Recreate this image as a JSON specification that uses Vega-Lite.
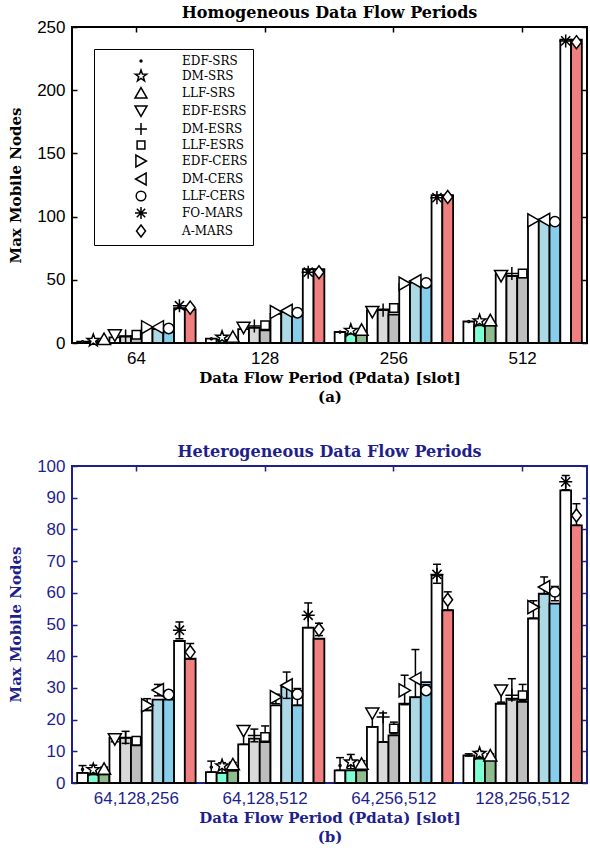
{
  "$schema": "https://vega.github.io/schema/vega-lite/v6.json",
  "padding": {"left": 7, "top": 4, "right": 0, "bottom": 0},
  "background": "white",
  "spacing": 38,
  "config": {
    "font": "DejaVu Serif",
    "view": {"stroke": "black", "strokeWidth": 2},
    "axis": {
      "labelFont": "Liberation Sans", "labelFontSize": 17, "labelColor": "black",
      "titleFont": "DejaVu Serif", "titleFontSize": 15, "titleFontWeight": "bold", "titleColor": "black",
      "domain": false, "grid": false, "tickSize": -5, "tickWidth": 1.5, "tickColor": "black", "minExtent": 0
    },
    "title": {"font": "DejaVu Serif", "fontSize": 16, "fontWeight": "bold", "anchor": "middle", "offset": -3}
  },
  "resolve": {"scale": {"x": "independent", "y": "independent", "shape": "independent", "fill": "independent", "xOffset": "independent"}, "legend": {"shape": "independent", "fill": "independent"}},
  "datasets": {
    "homo": [
      {"g": "64", "s": "EDF-SRS", "v": 1, "m": 1},
      {"g": "64", "s": "DM-SRS", "v": 1, "m": 2},
      {"g": "64", "s": "LLF-SRS", "v": 1.5, "m": 3.2},
      {"g": "64", "s": "EDF-ESRS", "v": 4.5, "m": 6},
      {"g": "64", "s": "DM-ESRS", "v": 5, "m": 5.5},
      {"g": "64", "s": "LLF-ESRS", "v": 5.5, "m": 6.5},
      {"g": "64", "s": "EDF-CERS", "v": 12, "m": 12.5},
      {"g": "64", "s": "DM-CERS", "v": 11, "m": 12.5},
      {"g": "64", "s": "LLF-CERS", "v": 9.5, "m": 11.5},
      {"g": "64", "s": "FO-MARS", "v": 27.5, "m": 29.5},
      {"g": "64", "s": "A-MARS", "v": 26.5, "m": 28},
      {"g": "128", "s": "EDF-SRS", "v": 3.4, "m": 3.4},
      {"g": "128", "s": "DM-SRS", "v": 2.5, "m": 4.5},
      {"g": "128", "s": "LLF-SRS", "v": 2.5, "m": 5},
      {"g": "128", "s": "EDF-ESRS", "v": 11, "m": 12},
      {"g": "128", "s": "DM-ESRS", "v": 12, "m": 13.5},
      {"g": "128", "s": "LLF-ESRS", "v": 10, "m": 14},
      {"g": "128", "s": "EDF-CERS", "v": 23, "m": 24.5},
      {"g": "128", "s": "DM-CERS", "v": 24.5, "m": 25.5},
      {"g": "128", "s": "LLF-CERS", "v": 22, "m": 24},
      {"g": "128", "s": "FO-MARS", "v": 58.4, "m": 56},
      {"g": "128", "s": "A-MARS", "v": 58.4, "m": 56},
      {"g": "256", "s": "EDF-SRS", "v": 8.7, "m": 8.7},
      {"g": "256", "s": "DM-SRS", "v": 7.2, "m": 10},
      {"g": "256", "s": "LLF-SRS", "v": 7.4, "m": 10.5},
      {"g": "256", "s": "EDF-ESRS", "v": 26, "m": 24.5},
      {"g": "256", "s": "DM-ESRS", "v": 26.5, "m": 26},
      {"g": "256", "s": "LLF-ESRS", "v": 22.5, "m": 27.7},
      {"g": "256", "s": "EDF-CERS", "v": 46.7, "m": 47},
      {"g": "256", "s": "DM-CERS", "v": 48.5, "m": 49},
      {"g": "256", "s": "LLF-CERS", "v": 45.5, "m": 47.5},
      {"g": "256", "s": "FO-MARS", "v": 117, "m": 115},
      {"g": "256", "s": "A-MARS", "v": 117, "m": 115.5},
      {"g": "512", "s": "EDF-SRS", "v": 17, "m": 17},
      {"g": "512", "s": "DM-SRS", "v": 14, "m": 17.5},
      {"g": "512", "s": "LLF-SRS", "v": 14, "m": 18},
      {"g": "512", "s": "EDF-ESRS", "v": 54.5, "m": 53},
      {"g": "512", "s": "DM-ESRS", "v": 53, "m": 55},
      {"g": "512", "s": "LLF-ESRS", "v": 52, "m": 55},
      {"g": "512", "s": "EDF-CERS", "v": 97.5, "m": 97},
      {"g": "512", "s": "DM-CERS", "v": 97.5, "m": 97.5},
      {"g": "512", "s": "LLF-CERS", "v": 95, "m": 96},
      {"g": "512", "s": "FO-MARS", "v": 240, "m": 239},
      {"g": "512", "s": "A-MARS", "v": 240, "m": 238}
    ],
    "hetero": [
      {"g": "64,128,256", "s": "EDF-SRS", "v": 3.2, "m": 4.3, "lo": 3.2, "hi": 5.5},
      {"g": "64,128,256", "s": "DM-SRS", "v": 2.7, "m": 4.2, "lo": 2.7, "hi": 5.6},
      {"g": "64,128,256", "s": "LLF-SRS", "v": 2.7, "m": 4.5, "lo": 2.7, "hi": 5.0},
      {"g": "64,128,256", "s": "EDF-ESRS", "v": 14.3, "m": 13.8, "lo": 13, "hi": 14.6},
      {"g": "64,128,256", "s": "DM-ESRS", "v": 14.3, "m": 14.2, "lo": 12.5, "hi": 16.3},
      {"g": "64,128,256", "s": "LLF-ESRS", "v": 11.9, "m": 13.3, "lo": 11.9, "hi": 14.6},
      {"g": "64,128,256", "s": "EDF-CERS", "v": 22.9, "m": 24.5, "lo": 22.9, "hi": 26.6},
      {"g": "64,128,256", "s": "DM-CERS", "v": 26.3, "m": 29.3, "lo": 27.5, "hi": 31.1},
      {"g": "64,128,256", "s": "LLF-CERS", "v": 26.3, "m": 27.9, "lo": 26.5, "hi": 29},
      {"g": "64,128,256", "s": "FO-MARS", "v": 44.8, "m": 48.2, "lo": 45.5, "hi": 50.8},
      {"g": "64,128,256", "s": "A-MARS", "v": 39.2, "m": 41.3, "lo": 39.2, "hi": 44},
      {"g": "64,128,512", "s": "EDF-SRS", "v": 3.4, "m": 5, "lo": 3.4, "hi": 6.9},
      {"g": "64,128,512", "s": "DM-SRS", "v": 3.2, "m": 5.4, "lo": 3.2, "hi": 6.4},
      {"g": "64,128,512", "s": "LLF-SRS", "v": 3.9, "m": 5.9, "lo": 3.9, "hi": 6.5},
      {"g": "64,128,512", "s": "EDF-ESRS", "v": 12.2, "m": 16.4, "lo": 12.2, "hi": 17.9},
      {"g": "64,128,512", "s": "DM-ESRS", "v": 14, "m": 15, "lo": 13, "hi": 17},
      {"g": "64,128,512", "s": "LLF-ESRS", "v": 12.9, "m": 14.5, "lo": 12.9, "hi": 18},
      {"g": "64,128,512", "s": "EDF-CERS", "v": 24.5, "m": 27.1, "lo": 25, "hi": 28},
      {"g": "64,128,512", "s": "DM-CERS", "v": 30.3, "m": 30.8, "lo": 26.7, "hi": 35},
      {"g": "64,128,512", "s": "LLF-CERS", "v": 24.5, "m": 28, "lo": 24.5, "hi": 29.8},
      {"g": "64,128,512", "s": "FO-MARS", "v": 49, "m": 52.9, "lo": 49, "hi": 56.8},
      {"g": "64,128,512", "s": "A-MARS", "v": 45.5, "m": 48.4, "lo": 46.5, "hi": 50.4},
      {"g": "64,256,512", "s": "EDF-SRS", "v": 4, "m": 5.5, "lo": 4, "hi": 8},
      {"g": "64,256,512", "s": "DM-SRS", "v": 4, "m": 6.6, "lo": 4.5, "hi": 9},
      {"g": "64,256,512", "s": "LLF-SRS", "v": 4, "m": 6.1, "lo": 4, "hi": 7},
      {"g": "64,256,512", "s": "EDF-ESRS", "v": 17.7, "m": 21.9, "lo": 17.7, "hi": 22.5},
      {"g": "64,256,512", "s": "DM-ESRS", "v": 12.9, "m": 20.8, "lo": 13, "hi": 22.1},
      {"g": "64,256,512", "s": "LLF-ESRS", "v": 15, "m": 17.2, "lo": 15.5, "hi": 19.2},
      {"g": "64,256,512", "s": "EDF-CERS", "v": 25, "m": 29.2, "lo": 24.7, "hi": 34},
      {"g": "64,256,512", "s": "DM-CERS", "v": 27.1, "m": 32.9, "lo": 27, "hi": 42.1},
      {"g": "64,256,512", "s": "LLF-CERS", "v": 31.8, "m": 29.2, "lo": 28, "hi": 31},
      {"g": "64,256,512", "s": "FO-MARS", "v": 65.5, "m": 65.8, "lo": 63, "hi": 69},
      {"g": "64,256,512", "s": "A-MARS", "v": 54.5, "m": 57.8, "lo": 54.5, "hi": 60.3},
      {"g": "128,256,512", "s": "EDF-SRS", "v": 8.7, "m": 8.8, "lo": 8.5, "hi": 9.2},
      {"g": "128,256,512", "s": "DM-SRS", "v": 7.7, "m": 9.3, "lo": 8.5, "hi": 10},
      {"g": "128,256,512", "s": "LLF-SRS", "v": 7.2, "m": 8.7, "lo": 8.2, "hi": 9.2},
      {"g": "128,256,512", "s": "EDF-ESRS", "v": 25, "m": 29.2, "lo": 25.5, "hi": 30.3},
      {"g": "128,256,512", "s": "DM-ESRS", "v": 26.6, "m": 27.7, "lo": 26.2, "hi": 32.9},
      {"g": "128,256,512", "s": "LLF-ESRS", "v": 25.6, "m": 27.7, "lo": 26, "hi": 31.1},
      {"g": "128,256,512", "s": "EDF-CERS", "v": 51.9, "m": 55.5, "lo": 52, "hi": 57.5},
      {"g": "128,256,512", "s": "DM-CERS", "v": 59.7, "m": 61.8, "lo": 59.7, "hi": 65},
      {"g": "128,256,512", "s": "LLF-CERS", "v": 56.6, "m": 60.3, "lo": 57.5, "hi": 62},
      {"g": "128,256,512", "s": "FO-MARS", "v": 92.3, "m": 95, "lo": 92.5, "hi": 97},
      {"g": "128,256,512", "s": "A-MARS", "v": 81.3, "m": 84.4, "lo": 81.3, "hi": 88.1}
    ]
  },
  "vconcat": [
    {
      "width": 515,
      "height": 316,
      "title": {"text": "Homogeneous Data Flow Periods", "color": "black"},
      "data": {"name": "homo"},
      "resolve": {"axis": {"x": "independent", "y": "independent"}, "legend": {"shape": "independent", "fill": "independent"}},
      "layer": [
        {
          "mark": {"type": "bar", "stroke": "black", "strokeWidth": 1.8},
          "encoding": {
            "x": {"field": "g", "type": "nominal", "sort": ["64", "128", "256", "512"],
              "scale": {"paddingInner": 0.08, "paddingOuter": 0.04},
              "axis": {"orient": "bottom", "labelAngle": 0, "labelPadding": 12,
                "title": ["Data Flow Period (Pdata) [slot]", "(a)"], "titleY": 39, "titleBaseline": "alphabetic", "titleLineHeight": 19}},
            "xOffset": {"field": "s", "type": "nominal",
              "scale": {"domain": ["EDF-SRS", "DM-SRS", "LLF-SRS", "EDF-ESRS", "DM-ESRS", "LLF-ESRS", "EDF-CERS", "DM-CERS", "LLF-CERS", "FO-MARS", "A-MARS"], "paddingInner": 0, "paddingOuter": 0}},
            "y": {"field": "v", "type": "quantitative", "scale": {"domain": [0, 250], "nice": false},
              "axis": {"orient": "left", "values": [0, 50, 100, 150, 200, 250], "labelPadding": 12,
                "title": "Max Mobile Nodes", "titleX": -57, "titleY": 158, "titleAngle": -90, "titleAlign": "center", "titleBaseline": "middle"}},
            "fill": {"field": "s", "type": "nominal", "legend": null,
              "scale": {"domain": ["EDF-SRS", "DM-SRS", "LLF-SRS", "EDF-ESRS", "DM-ESRS", "LLF-ESRS", "EDF-CERS", "DM-CERS", "LLF-CERS", "FO-MARS", "A-MARS"],
                "range": ["#ffffff", "#7fffd4", "#8fbc8f", "#ffffff", "#d9d9d9", "#bebebe", "#ffffff", "#add8e6", "#87ceeb", "#ffffff", "#f08080"]}}
          }
        },
        {
          "mark": {"type": "point", "filled": false, "color": "black", "fill": "white", "strokeWidth": 1.5, "opacity": 1, "size": 170},
          "encoding": {
            "x": {"field": "g", "type": "nominal", "sort": ["64", "128", "256", "512"],
              "axis": {"orient": "top", "labels": false, "title": null, "labelPadding": 0}},
            "xOffset": {"field": "s", "type": "nominal"},
            "y": {"field": "m", "type": "quantitative",
              "axis": {"orient": "right", "labels": false, "title": null, "values": [0, 50, 100, 150, 200, 250]}},
            "shape": {"field": "s", "type": "nominal",
              "scale": {"domain": ["EDF-SRS", "DM-SRS", "LLF-SRS", "EDF-ESRS", "DM-ESRS", "LLF-ESRS", "EDF-CERS", "DM-CERS", "LLF-CERS", "FO-MARS", "A-MARS"],
                "range": [
                  "M-0.15,0A0.15,0.15,0,1,1,0.15,0A0.15,0.15,0,1,1,-0.15,0Z",
                  "M0,-1L0.235,-0.324L0.951,-0.309L0.38,0.124L0.588,0.809L0,0.4L-0.588,0.809L-0.38,0.124L-0.951,-0.309L-0.235,-0.324Z",
                  "M0,-0.9L1,0.85L-1,0.85Z",
                  "M0,0.9L1,-0.85L-1,-0.85Z",
                  "M-1,0L1,0M0,-1L0,1",
                  "M-0.65,-0.65L0.65,-0.65L0.65,0.65L-0.65,0.65Z",
                  "M0.9,0L-0.85,1L-0.85,-1Z",
                  "M-0.9,0L0.85,1L0.85,-1Z",
                  "M-0.8,0A0.8,0.8,0,1,1,0.8,0A0.8,0.8,0,1,1,-0.8,0Z",
                  "M-1,0L1,0M0,-1L0,1M-0.7,-0.7L0.7,0.7M-0.7,0.7L0.7,-0.7",
                  "M0,-1L0.75,0L0,1L-0.75,0Z"
                ]},
              "legend": {"orient": "none", "legendX": 22, "legendY": 22, "title": null, "padding": 5,
                "strokeColor": "black", "fillColor": "white",
                "labelFont": "DejaVu Serif", "labelFontSize": 12, "labelColor": "black",
                "symbolSize": 144, "symbolOffset": 35, "labelOffset": 34, "rowPadding": 0}}
          }
        }
      ]
    },
    {
      "width": 515,
      "height": 317,
      "title": {"text": "Heterogeneous Data Flow Periods", "color": "#1f1f8c"},
      "data": {"name": "hetero"},
      "view": {"stroke": "#1f1f8c", "strokeWidth": 2},
      "resolve": {"axis": {"x": "independent", "y": "independent"}},
      "layer": [
        {
          "mark": {"type": "bar", "stroke": "black", "strokeWidth": 1.8},
          "encoding": {
            "x": {"field": "g", "type": "nominal", "sort": ["64,128,256", "64,128,512", "64,256,512", "128,256,512"],
              "scale": {"paddingInner": 0.08, "paddingOuter": 0.04},
              "axis": {"orient": "bottom", "labelAngle": 0, "labelPadding": 12, "labelColor": "#1f1f8c", "tickColor": "#1f1f8c", "titleColor": "#1f1f8c",
                "title": ["Data Flow Period (Pdata) [slot]", "(b)"], "titleY": 39, "titleBaseline": "alphabetic", "titleLineHeight": 19}},
            "xOffset": {"field": "s", "type": "nominal",
              "scale": {"domain": ["EDF-SRS", "DM-SRS", "LLF-SRS", "EDF-ESRS", "DM-ESRS", "LLF-ESRS", "EDF-CERS", "DM-CERS", "LLF-CERS", "FO-MARS", "A-MARS"], "paddingInner": 0, "paddingOuter": 0}},
            "y": {"field": "v", "type": "quantitative", "scale": {"domain": [0, 100], "nice": false},
              "axis": {"orient": "left", "values": [0, 10, 20, 30, 40, 50, 60, 70, 80, 90, 100], "labelPadding": 12, "labelColor": "#1f1f8c", "tickColor": "#1f1f8c", "titleColor": "#1f1f8c",
                "title": "Max Mobile Nodes", "titleX": -57, "titleY": 158, "titleAngle": -90, "titleAlign": "center", "titleBaseline": "middle"}},
            "fill": {"field": "s", "type": "nominal", "legend": null,
              "scale": {"domain": ["EDF-SRS", "DM-SRS", "LLF-SRS", "EDF-ESRS", "DM-ESRS", "LLF-ESRS", "EDF-CERS", "DM-CERS", "LLF-CERS", "FO-MARS", "A-MARS"],
                "range": ["#ffffff", "#7fffd4", "#8fbc8f", "#ffffff", "#d9d9d9", "#bebebe", "#ffffff", "#add8e6", "#87ceeb", "#ffffff", "#f08080"]}}
          }
        },
        {
          "mark": {"type": "rule", "stroke": "black", "strokeWidth": 1.5},
          "encoding": {
            "x": {"field": "g", "type": "nominal", "sort": ["64,128,256", "64,128,512", "64,256,512", "128,256,512"], "axis": null},
            "xOffset": {"field": "s", "type": "nominal"},
            "y": {"field": "lo", "type": "quantitative", "axis": null},
            "y2": {"field": "hi"}
          }
        },
        {
          "mark": {"type": "tick", "orient": "horizontal", "size": 8, "thickness": 1.5, "color": "black", "opacity": 1},
          "encoding": {
            "x": {"field": "g", "type": "nominal", "sort": ["64,128,256", "64,128,512", "64,256,512", "128,256,512"], "axis": null},
            "xOffset": {"field": "s", "type": "nominal"},
            "y": {"field": "hi", "type": "quantitative", "axis": null}
          }
        },
        {
          "mark": {"type": "tick", "orient": "horizontal", "size": 8, "thickness": 1.5, "color": "black", "opacity": 1},
          "encoding": {
            "x": {"field": "g", "type": "nominal", "sort": ["64,128,256", "64,128,512", "64,256,512", "128,256,512"], "axis": null},
            "xOffset": {"field": "s", "type": "nominal"},
            "y": {"field": "lo", "type": "quantitative", "axis": null}
          }
        },
        {
          "mark": {"type": "point", "filled": false, "color": "black", "fill": "white", "strokeWidth": 1.5, "opacity": 1, "size": 170},
          "encoding": {
            "x": {"field": "g", "type": "nominal", "sort": ["64,128,256", "64,128,512", "64,256,512", "128,256,512"],
              "axis": {"orient": "top", "labels": false, "title": null, "labelPadding": 0, "tickColor": "#1f1f8c"}},
            "xOffset": {"field": "s", "type": "nominal"},
            "y": {"field": "m", "type": "quantitative",
              "axis": {"orient": "right", "labels": false, "title": null, "tickColor": "#1f1f8c", "values": [0, 10, 20, 30, 40, 50, 60, 70, 80, 90, 100]}},
            "shape": {"field": "s", "type": "nominal", "legend": null,
              "scale": {"domain": ["EDF-SRS", "DM-SRS", "LLF-SRS", "EDF-ESRS", "DM-ESRS", "LLF-ESRS", "EDF-CERS", "DM-CERS", "LLF-CERS", "FO-MARS", "A-MARS"],
                "range": [
                  "M-0.15,0A0.15,0.15,0,1,1,0.15,0A0.15,0.15,0,1,1,-0.15,0Z",
                  "M0,-1L0.235,-0.324L0.951,-0.309L0.38,0.124L0.588,0.809L0,0.4L-0.588,0.809L-0.38,0.124L-0.951,-0.309L-0.235,-0.324Z",
                  "M0,-0.9L1,0.85L-1,0.85Z",
                  "M0,0.9L1,-0.85L-1,-0.85Z",
                  "M-1,0L1,0M0,-1L0,1",
                  "M-0.65,-0.65L0.65,-0.65L0.65,0.65L-0.65,0.65Z",
                  "M0.9,0L-0.85,1L-0.85,-1Z",
                  "M-0.9,0L0.85,1L0.85,-1Z",
                  "M-0.8,0A0.8,0.8,0,1,1,0.8,0A0.8,0.8,0,1,1,-0.8,0Z",
                  "M-1,0L1,0M0,-1L0,1M-0.7,-0.7L0.7,0.7M-0.7,0.7L0.7,-0.7",
                  "M0,-1L0.75,0L0,1L-0.75,0Z"
                ]}}
          }
        }
      ]
    }
  ]
}
